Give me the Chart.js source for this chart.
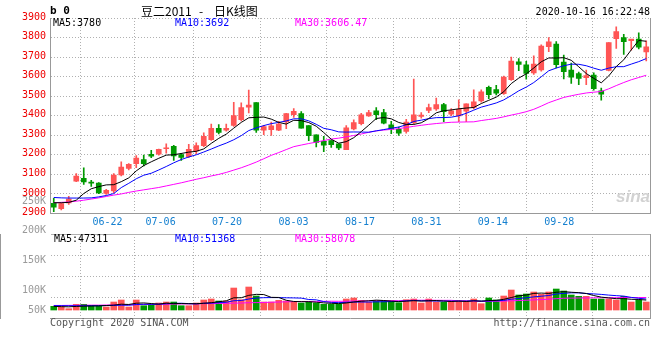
<!DOCTYPE html>
<html><head><meta charset="utf-8">
<script src="https://cdn.jsdelivr.net/npm/chart.js@4"></script>
<style>
html,body{margin:0;padding:0;background:#fff;}
#wrap{position:relative;width:660px;height:360px;overflow:hidden;background:#fff;}
canvas{position:absolute;left:0;}
#cPrice{top:0;z-index:2;}
#cVol{top:190px;z-index:1;}
.t{position:absolute;font:10px 'DejaVu Sans Mono',monospace;line-height:12px;white-space:pre;color:#000;z-index:5;}
.cn{font:12px 'Noto Sans CJK SC',sans-serif;line-height:16px;top:3px;}
</style></head>
<body><div id="wrap">
<canvas id="cPrice" width="660" height="232"></canvas>
<canvas id="cVol" width="660" height="150"></canvas>
<div class="t" style="left:50px;top:5px;font-weight:bold;font-size:11px;">b 0</div>
<div class="t cn" style="left:141px;">豆二2011</div>
<div class="t cn" style="left:199px;">-</div>
<div class="t cn" style="left:214px;">日K线图</div>
<div class="t" style="right:10px;top:6px;">2020-10-16 16:22:48</div>
<div class="t" style="left:53px;top:17px;">MA5:3780</div>
<div class="t" style="left:175px;top:17px;color:#0000ff;">MA10:3692</div>
<div class="t" style="left:295px;top:17px;color:#ff00ff;">MA30:3606.47</div>
<div class="t" style="left:54px;top:233px;">MA5:47311</div>
<div class="t" style="left:175px;top:233px;color:#0000ff;">MA10:51368</div>
<div class="t" style="left:295px;top:233px;color:#ff00ff;">MA30:58078</div>
<div class="t" style="left:50px;top:317px;color:#555;">Copyright 2020 SINA.COM</div>
<div class="t" style="right:10px;top:317px;color:#555;">http://finance.sina.com.cn</div>
<div class="t" style="left:616px;top:188px;font:italic bold 17px 'Liberation Sans',sans-serif;color:#d2d2d2;line-height:18px;">sina</div>
</div>
<script>
// ---- data ----
const dates = ['06-17','06-18','06-19','06-22','06-23','06-24','06-29','06-30','07-01','07-02','07-03',
'07-06','07-07','07-08','07-09','07-10','07-13','07-14','07-15','07-16','07-17',
'07-20','07-21','07-22','07-23','07-24','07-27','07-28','07-29','07-30','07-31',
'08-03','08-04','08-05','08-06','08-07','08-10','08-11','08-12','08-13','08-14',
'08-17','08-18','08-19','08-20','08-21','08-24','08-25','08-26','08-27','08-28',
'08-31','09-01','09-02','09-03','09-04','09-07','09-08','09-09','09-10','09-11',
'09-14','09-15','09-16','09-17','09-18','09-21','09-22','09-23','09-24','09-25',
'09-28','09-29','09-30','10-09','10-12','10-13','10-14','10-15','10-16'];
const dateTicks = ['06-22','07-06','07-20','08-03','08-17','08-31','09-14','09-28'];

const opens = [2952,2925,2954,3066,3080,3058,3055,3003,3015,3097,
3130,3155,3176,3203,3203,3231,3244,3201,3191,3220,
3247,3278,3336,3326,3351,3380,3444,3468,3326,3329,
3326,3368,3406,3411,3350,3303,3269,3273,3257,3227,
3333,3359,3399,3425,3416,3354,3331,3320,3365,3396,
3427,3435,3457,3408,3399,3423,3442,3476,3546,3534,
3513,3585,3676,3660,3619,3635,3753,3767,3674,3633,
3616,3595,3608,3527,3632,3794,3800,3784,3792,3726];
const highs = [2978,2953,2988,3104,3133,3070,3058,3024,3104,3164,
3155,3196,3199,3223,3230,3257,3249,3208,3254,3262,
3312,3358,3355,3358,3469,3466,3531,3468,3351,3368,
3372,3413,3437,3421,3350,3303,3295,3273,3257,3350,
3379,3413,3428,3442,3433,3371,3342,3382,3588,3416,
3460,3491,3464,3437,3481,3461,3532,3532,3552,3556,
3603,3700,3692,3679,3706,3763,3800,3780,3710,3670,
3624,3633,3620,3541,3774,3855,3817,3791,3824,3783];
const lows = [2910,2918,2947,3063,3049,3039,3002,2998,3007,3092,
3123,3135,3143,3186,3199,3208,3172,3172,3186,3205,
3242,3274,3307,3321,3346,3374,3415,3315,3303,3300,
3324,3334,3392,3336,3273,3240,3216,3238,3227,3227,
3328,3353,3396,3380,3358,3308,3299,3311,3358,3388,
3416,3427,3370,3401,3370,3370,3435,3469,3488,3506,
3509,3581,3630,3587,3612,3628,3728,3645,3588,3566,
3559,3559,3531,3480,3629,3745,3714,3736,3742,3681];
const closes = [2933,2951,2974,3092,3061,3055,3005,3019,3097,3138,
3152,3184,3155,3193,3228,3233,3194,3187,3228,3248,
3295,3336,3315,3336,3401,3442,3454,3326,3344,3348,
3358,3411,3423,3336,3298,3264,3249,3252,3235,3338,
3365,3405,3416,3406,3362,3333,3311,3367,3405,3404,
3442,3457,3421,3425,3433,3461,3471,3522,3508,3515,
3598,3680,3662,3617,3664,3757,3778,3661,3625,3597,
3591,3606,3538,3510,3774,3830,3779,3792,3751,3753];
const volumes = [17500,14200,6200,27000,27000,20300,17500,14200,37800,47300,
14200,47300,20300,23700,33100,37800,37800,20300,20300,33100,
47300,52000,42600,42600,104000,48700,108800,66200,37800,37800,
45900,42600,37800,33100,37800,33100,27000,27000,27000,52000,
56800,45900,36400,42600,42600,42600,34500,48700,52000,33100,
52000,37800,36400,42600,42600,42600,52000,29800,56800,47300,
66200,94600,71000,75700,85100,74300,85100,99300,89900,71000,
64800,64800,52000,52000,52000,47300,64800,37800,47300,37800];

// moving-average values for days before a full window exists
const ma5Lead = [2955,2955,2957,2968];
const ma10Lead = [2982,2980,2979,2979,2979,2980,2985,2992,3002];
const ma30Lead = [2955,2957,2959,2963,2968,2974,2980,2987,2994,3000,3008,3015,3021,3027,3033,
3041,3049,3057,3066,3075,3083,3092,3100,3110,3122,3134,3148,3163,3180];
const vma5Lead = [17000,16000,15000,17000];
const vma10Lead = [20500,20500,20000,20000,20000,20500,20500,21000,21500];
const vma30Lead = [21500,21500,22000,22000,22500,23000,23000,23500,24000,24500,25000,25500,26000,26500,27000,
27500,28000,28500,29000,29500,30000,30500,31000,31500,32500,33000,34500,35000,35500];

const priceTicks = [2900,3000,3100,3200,3300,3400,3500,3600,3700,3800,3900];
const volTickValues = [250000,200000,150000,100000,50000];
const volTickLabels = ['250K','200K','150K','100K','50K'];

// ---- helpers ----
function movingAverage(vals, n, lead){
  return vals.map((v,i)=>{
    if(i < n-1) return lead[i];
    let s=0; for(let j=i-n+1;j<=i;j++) s+=vals[j];
    return s/n;
  });
}
const UP='#ff5555', DOWN='#009900';
const colors = closes.map((c,i)=> c>=opens[i] ? UP : DOWN);
const FONT = {family:"'DejaVu Sans Mono', monospace", size:10};
const GRID='#b0b0b0', FRAME='#999999';
const dateIdx = dateTicks.map(d=>dates.indexOf(d));

const ma5 = movingAverage(closes,5,ma5Lead);
const ma10 = movingAverage(closes,10,ma10Lead);
const ma30 = movingAverage(closes,30,ma30Lead);
const vma5 = movingAverage(volumes,5,vma5Lead);
const vma10 = movingAverage(volumes,10,vma10Lead);
const vma30 = movingAverage(volumes,30,vma30Lead);

function line(data,color){
  return {type:'line',data,borderColor:color,borderWidth:1,pointRadius:0,tension:0,order:0,xAxisID:'x',yAxisID:'y'};
}
const common = {responsive:false,animation:false,devicePixelRatio:1,
  plugins:{legend:{display:false},tooltip:{enabled:false}}};

new Chart(document.getElementById('cPrice'),{
  type:'bar',
  data:{labels:dates,datasets:[
    line(ma5,'#000000'), line(ma10,'#0000ff'), line(ma30,'#ff00ff'),
    {type:'bar',data:opens.map((o,i)=>[o,closes[i]]),backgroundColor:colors,barThickness:5,minBarLength:1,grouped:false,order:2,xAxisID:'x',yAxisID:'y'},
    {type:'bar',data:lows.map((l,i)=>[l,highs[i]]),backgroundColor:colors,barThickness:1,grouped:false,order:3,xAxisID:'x',yAxisID:'y'}
  ]},
  options:Object.assign({},common,{
    layout:{padding:{top:18,left:0,right:0,bottom:0}},
    scales:{
      x:{type:'category',display:false,offset:true},
      xd:{type:'linear',position:'bottom',min:0,max:dates.length-1,
        afterBuildTicks:s=>{s.ticks=dateIdx.map(v=>({value:v}));},
        ticks:{callback:(v,i)=>dateTicks[i],color:'#1580d0',font:FONT,padding:3,maxRotation:0,autoSkip:false},
        grid:{color:GRID,drawTicks:false},border:{color:FRAME,dash:[1,2]},
        afterFit:s=>{s.height=18.5;}},
      y:{position:'left',min:2900,max:3900,
        afterBuildTicks:s=>{s.ticks=priceTicks.map(v=>({value:v}));},
        ticks:{callback:v=>String(v),color:'#ee0000',font:FONT,padding:4,labelOffset:-1,autoSkip:false},
        grid:{color:GRID,drawTicks:false},border:{color:FRAME,dash:[1,2]},
        afterFit:s=>{s.width=50;}},
      yr:{position:'right',min:2900,max:3900,ticks:{display:false},grid:{display:false,drawTicks:false},
        border:{color:FRAME},afterFit:s=>{s.width=10;}}
    }
  })
});

function vline(data,color){ const d=line(data,color); d.yAxisID='yv'; return d; }
new Chart(document.getElementById('cVol'),{
  type:'bar',
  data:{labels:dates,datasets:[
    vline(vma5,'#000000'), vline(vma10,'#0000ff'), vline(vma30,'#ff00ff'),
    {type:'bar',data:volumes,backgroundColor:colors,barThickness:6,grouped:false,order:2,xAxisID:'x',yAxisID:'yv'}
  ]},
  options:Object.assign({},common,{
    layout:{padding:{top:44,left:0,right:0,bottom:0}},
    scales:{
      x:{type:'category',display:false,offset:true},
      xd:{type:'linear',position:'bottom',min:0,max:dates.length-1,
        afterBuildTicks:s=>{s.ticks=dateIdx.map(v=>({value:v}));},
        ticks:{display:false},grid:{color:GRID,drawTicks:false},border:{color:FRAME,dash:[1,2]},
        afterFit:s=>{s.height=22;}},
      yl:{position:'left',min:52900,max:194300,
        afterBuildTicks:s=>{const lo=s.min+(s.max-s.min)*0.095; s.ticks=volTickValues.map(v=>({value:Math.max(v,lo)}));},
        ticks:{callback:(v,i)=>volTickLabels[i],color:'#9a9a9a',font:FONT,padding:4,autoSkip:false},
        grid:{display:false,drawTicks:false},border:{display:false},
        afterFit:s=>{s.width=50;}},
      yv:{position:'left',min:-37800,max:359500,
        afterBuildTicks:s=>{const st=(s.max-s.min)/4; s.ticks=[1,2,3,4].map(k=>({value:s.min+st*k}));},
        ticks:{display:false},grid:{color:GRID,drawTicks:false},
        border:{color:FRAME,dash:c=>(c.tick && c.tick.value>=c.scale.max-1)?[]:[1,2]},
        afterFit:s=>{s.width=0;}},
      yr:{position:'right',min:0,max:1,ticks:{display:false},grid:{display:false,drawTicks:false},
        border:{color:FRAME},afterFit:s=>{s.width=10;}}
    }
  })
});
</script>
</body></html>
